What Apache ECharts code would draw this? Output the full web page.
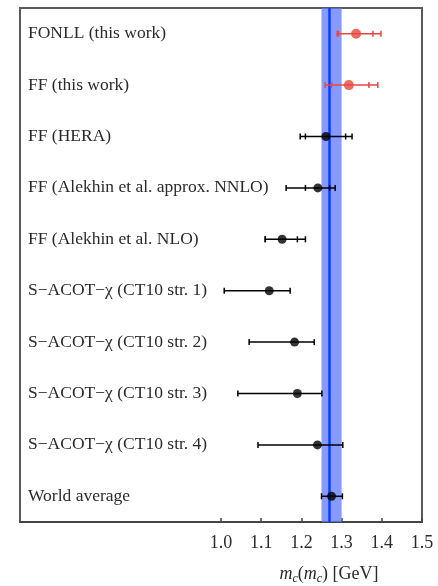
<!DOCTYPE html>
<html>
<head>
<meta charset="utf-8">
<script src="https://cdn.jsdelivr.net/npm/echarts@6/dist/echarts.min.js"></script>
<style>html,body{margin:0;padding:0;background:#fff}#c{width:438px;height:586px}</style>
</head>
<body>
<div id="c"></div>
<script>
var categories = [
  'FONLL (this work)',
  'FF (this work)',
  'FF (HERA)',
  'FF (Alekhin et al. approx. NNLO)',
  'FF (Alekhin et al. NLO)',
  'S\u2212ACOT\u2212\u03c7 (CT10 str. 1)',
  'S\u2212ACOT\u2212\u03c7 (CT10 str. 2)',
  'S\u2212ACOT\u2212\u03c7 (CT10 str. 3)',
  'S\u2212ACOT\u2212\u03c7 (CT10 str. 4)',
  'World average'
];
var centers   = [1.336, 1.318, 1.261, 1.241, 1.152, 1.12, 1.183, 1.19, 1.24, 1.275];
var totalLow  = [1.289, 1.259, 1.197, 1.162, 1.110, 1.008, 1.070, 1.042, 1.092, 1.250];
var totalHigh = [1.398, 1.390, 1.326, 1.284, 1.210, 1.172, 1.232, 1.251, 1.303, 1.302];
var innerLow  = [1.292, 1.275, 1.210, 1.210, 1.110, null, null, null, null, null];
var innerHigh = [1.378, 1.368, 1.310, 1.270, 1.190, null, null, null, null, null];
var highlighted = [true, true, false, false, false, false, false, false, false, false];
var tickValues = [1.0, 1.1, 1.2, 1.3, 1.4, 1.5];
var worldAvg = 1.275, worldBandLow = 1.25, worldBandHigh = 1.30;

var RED = '#e8463f', BLACK = '#000';

var errData = categories.map(function (c, i) {
  return [totalLow[i], totalHigh[i], i, innerLow[i], innerHigh[i], highlighted[i] ? 1 : 0];
});
var redPts = [], blackPts = [];
categories.forEach(function (c, i) {
  (highlighted[i] ? redPts : blackPts).push([centers[i], i]);
});

var chart = echarts.init(document.getElementById('c'));
chart.setOption({
  animation: false,
  grid: {left: 20, right: 16, top: 8, bottom: 64, show: true, borderColor: '#5a5a5a', borderWidth: 2, backgroundColor: 'transparent'},
  xAxis: {
    type: 'value', min: 0.5, max: 1.5,
    splitLine: {show: false},
    axisLine: {show: true, lineStyle: {color: '#444', width: 2}},
    axisTick: {show: true, inside: true, length: 4, customValues: tickValues, lineStyle: {color: '#444', width: 1.5}},
    axisLabel: {customValues: tickValues, margin: 12, color: '#2a2a2a', fontSize: 18, fontFamily: 'Liberation Serif',
      formatter: function (v) { return v.toFixed(1); }}
  },
  yAxis: {
    type: 'category', data: categories, inverse: true,
    axisLine: {show: false}, axisTick: {show: false}, splitLine: {show: false},
    axisLabel: {inside: true, margin: 8, color: '#2a2a2a', fontSize: 17.5, fontFamily: 'Liberation Serif'}
  },
  title: {
    text: '{i|m}{s|c}{n|(}{i|m}{s|c}{n|) [GeV]}',
    left: 324, top: 558, textAlign: 'center',
    textStyle: {fontWeight: 'normal', rich: {
      i: {fontFamily: 'Liberation Serif', fontStyle: 'italic', fontWeight: 'normal', fontSize: 18, color: '#2a2a2a'},
      s: {fontFamily: 'Liberation Serif', fontStyle: 'italic', fontWeight: 'normal', fontSize: 12, color: '#2a2a2a', padding: [10, 0, 0, 0]},
      n: {fontFamily: 'Liberation Serif', fontWeight: 'normal', fontSize: 18, color: '#2a2a2a'}
    }}
  },
  series: [
    {
      type: 'line', data: [], silent: true,
      markArea: {silent: true, itemStyle: {color: 'rgba(95,120,255,0.75)'}, data: [[{xAxis: worldBandLow}, {xAxis: worldBandHigh}]]},
      markLine: {silent: true, symbol: 'none', label: {show: false}, lineStyle: {color: '#0a3cff', width: 2.5, type: 'solid'}, data: [{xAxis: worldAvg}]}
    },
    {
      type: 'custom', data: errData, z: 5, silent: true,
      renderItem: function (params, api) {
        var lo = api.coord([api.value(0), api.value(2)]);
        var hi = api.coord([api.value(1), api.value(2)]);
        var col = api.value(5) ? RED : BLACK;
        var st = {stroke: col, lineWidth: 1.5};
        var h = 3;
        var ch = [
          {type: 'line', shape: {x1: lo[0], y1: lo[1], x2: hi[0], y2: hi[1]}, style: st},
          {type: 'line', shape: {x1: lo[0], y1: lo[1] - h, x2: lo[0], y2: lo[1] + h}, style: st},
          {type: 'line', shape: {x1: hi[0], y1: hi[1] - h, x2: hi[0], y2: hi[1] + h}, style: st}
        ];
        var il = api.value(3), ih = api.value(4);
        if (il != null && !isNaN(il)) {
          var p = api.coord([il, api.value(2)]);
          ch.push({type: 'line', shape: {x1: p[0], y1: p[1] - h, x2: p[0], y2: p[1] + h}, style: st});
        }
        if (ih != null && !isNaN(ih)) {
          var q = api.coord([ih, api.value(2)]);
          ch.push({type: 'line', shape: {x1: q[0], y1: q[1] - h, x2: q[0], y2: q[1] + h}, style: st});
        }
        return {type: 'group', children: ch};
      }
    },
    {type: 'scatter', data: redPts, symbol: 'circle', symbolSize: 10, z: 6, itemStyle: {color: RED}, silent: true},
    {type: 'scatter', data: blackPts, symbol: 'circle', symbolSize: 9, z: 6, itemStyle: {color: BLACK}, silent: true}
  ]
});
</script>
</body>
</html>
